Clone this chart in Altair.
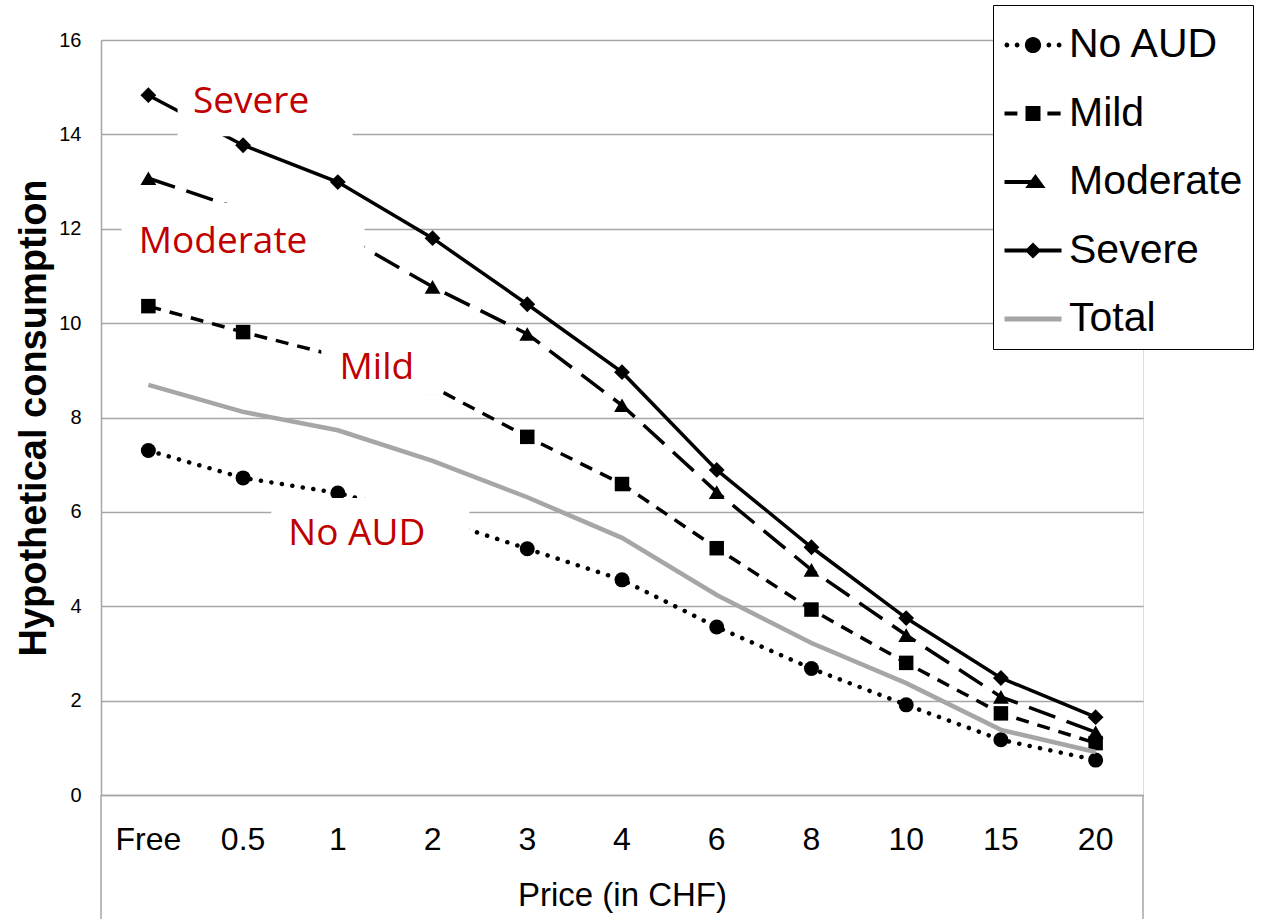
import altair as alt
import pandas as pd

# Price levels (x categories) and mean hypothetical consumption per group
prices = ["Free", "0.5", "1", "2", "3", "4", "6", "8", "10", "15", "20"]
no_aud = [7.30, 6.72, 6.40, 5.87, 5.22, 4.56, 3.56, 2.68, 1.91, 1.17, 0.74]
mild = [10.36, 9.81, 9.30, 8.65, 7.59, 6.59, 5.23, 3.93, 2.80, 1.73, 1.10]
moderate = [13.07, 12.40, 11.92, 10.77, 9.77, 8.26, 6.42, 4.77, 3.39, 2.08, 1.33]
severe = [14.83, 13.77, 12.99, 11.80, 10.40, 8.96, 6.89, 5.25, 3.75, 2.48, 1.65]
total = [8.69, 8.12, 7.73, 7.08, 6.31, 5.45, 4.24, 3.22, 2.37, 1.38, 0.91]

series_names = ["No AUD", "Mild", "Moderate", "Severe", "Total"]
series_values = [no_aud, mild, moderate, severe, total]

# In-plot group labels: text, anchor category and anchor value (text baseline)
label_text = ["Severe", "Moderate", "Mild", "No AUD"]
label_price = ["0.5", "0.5", "1", "1"]
label_value = [14.45, 11.49, 8.82, 5.30]

rows = []
for name, vals in zip(series_names, series_values):
    for p, v in zip(prices, vals):
        rows.append({"price": p, "value": v, "series": name})
df = pd.DataFrame(rows)

labels_df = pd.DataFrame({"price": label_price, "value": label_value, "text": label_text})

# ---- styles -------------------------------------------------------------
AXIS_GRAY = "#A6A6A6"
TOTAL_GRAY = "#A6A6A6"
LABEL_RED = "#C00000"
W, H = 1042, 755

line_styles = {
    "No AUD": dict(strokeWidth=4.5, strokeDash=[0.1, 10.5], strokeCap="round"),
    "Mild": dict(strokeWidth=3.5, strokeDash=[13, 9]),
    "Moderate": dict(strokeWidth=3.5, strokeDash=[28, 12]),
    "Severe": dict(strokeWidth=3.5),
    "Total": dict(strokeWidth=4.5),
}
line_colors = {"No AUD": "black", "Mild": "black", "Moderate": "black",
               "Severe": "black", "Total": TOTAL_GRAY}
marker_styles = {
    "No AUD": dict(shape="circle", size=225),
    "Mild": dict(shape="square", size=210),
    "Moderate": dict(shape="triangle-up", size=250),
    "Severe": dict(shape="diamond", size=250),
}

# pixel nudges of each label and its white backing box (relative to anchor)
label_dx = {"Severe": 8, "Moderate": -20, "Mild": 39, "No AUD": 19}
box_style = {  # dx, dy, width, height
    "Severe": (22, -7.5, 175, 61),
    "Moderate": (0, -20.5, 243, 59),
    "Mild": (44, -11.5, 121, 55),
    "No AUD": (32.5, -12, 198, 70),
}


# legend symbols: line + marker drawn as filled paths in a [-1, 1] box
def rect(x0, x1, h):
    return f"M{x0},{-h}L{x1},{-h}L{x1},{h}L{x0},{h}Z"


def circle(cx, r):
    return f"M{cx - r},0A{r},{r} 0 1,0 {cx + r},0A{r},{r} 0 1,0 {cx - r},0Z"


t = 0.067
legend_paths = [
    " ".join([circle(-0.87, 0.08), circle(-0.53, 0.08), circle(0, 0.27),
              circle(0.53, 0.08), circle(0.87, 0.08)]),
    " ".join([rect(-0.95, -0.52, t), "M-0.25,-0.25L0.25,-0.25L0.25,0.25L-0.25,0.25Z",
              rect(0.48, 0.92, t)]),
    " ".join([rect(-0.95, 0.0, t), "M0.08,-0.27L0.42,0.2L-0.26,0.2Z"]),
    " ".join([rect(-0.95, 0.95, t), "M0,-0.27L0.27,0L0,0.27L-0.27,0Z"]),
    rect(-0.95, 0.95, 0.085),
]
legend_colors = ["black", "black", "black", "black", TOTAL_GRAY]

# ---- shared encodings ---------------------------------------------------
x_enc = alt.X(
    "price:N",
    sort=prices,
    scale=alt.Scale(type="band", domain=prices, paddingInner=0, paddingOuter=0),
    axis=alt.Axis(
        title="Price (in CHF)",
        labelAngle=0,
        labelFont="Liberation Sans",
        labelFontSize=32,
        labelColor="black",
        labelBaseline="alphabetic",
        labelPadding=54,
        ticks=False,
        tickSize=0,
        grid=False,
        domainColor=AXIS_GRAY,
        domainWidth=1.5,
        titleFont="Liberation Sans",
        titleFontSize=33,
        titleFontWeight="normal",
        titleColor="black",
        titleBaseline="alphabetic",
        titleY=110,
    ),
)
y_enc = alt.Y(
    "value:Q",
    scale=alt.Scale(domain=[0, 16], nice=False, zero=True),
    axis=alt.Axis(
        title="Hypothetical consumption",
        values=[0, 2, 4, 6, 8, 10, 12, 14, 16],
        labelFont="Liberation Sans",
        labelFontSize=20,
        labelColor="black",
        labelPadding=20,
        ticks=False,
        tickSize=0,
        grid=True,
        gridColor=AXIS_GRAY,
        gridWidth=1.5,
        domainColor=AXIS_GRAY,
        domainWidth=1.5,
        titleFont="Liberation Sans",
        titleFontSize=38,
        titleFontWeight="bold",
        titleColor="black",
        titleAngle=270,
        titleAlign="center",
        titleBaseline="alphabetic",
        titleX=-56,
        titleY=H / 2,
    ),
)

layers = []

# series lines with their markers
for name in series_names:
    sub = alt.Chart(df).transform_filter(alt.datum.series == name)
    layers.append(
        sub.mark_line(color=line_colors[name], **line_styles[name]).encode(x=x_enc, y=y_enc)
    )
    if name in marker_styles:
        layers.append(
            sub.mark_point(filled=True, color="black", opacity=1, strokeWidth=0,
                           **marker_styles[name]).encode(x=x_enc, y=y_enc)
        )

# white boxes behind the group labels, then the labels themselves
for name in label_text:
    dx, dy, bw, bh = box_style[name]
    one = alt.Chart(labels_df).transform_filter(alt.datum.text == name)
    layers.append(
        one.mark_rect(color="white", width=bw, height=bh, xOffset=dx, yOffset=dy)
        .encode(x=x_enc, y=y_enc)
    )
    layers.append(
        one.mark_text(color=LABEL_RED, font="Open Sans", fontSize=37, align="center",
                      baseline="alphabetic", dx=label_dx[name])
        .encode(x=x_enc, y=y_enc, text="text:N")
    )

# frame of the category-axis band below the plot
frame = pd.DataFrame({"edge": ["left", "right"]})
layers.append(
    alt.Chart(frame).transform_filter(alt.datum.edge == "left")
    .mark_rule(color=AXIS_GRAY, strokeWidth=1.5)
    .encode(x=alt.value(0), y=alt.value(H), y2=alt.value(H + 130))
)
layers.append(
    alt.Chart(frame).transform_filter(alt.datum.edge == "right")
    .mark_rule(color=AXIS_GRAY, strokeWidth=1.5)
    .encode(x=alt.value(W), y=alt.value(H), y2=alt.value(H + 130))
)

# legend: scale domains are explicit, so entries exist without drawn marks
legend_def = alt.Legend(
    title=None,
    orient="none",
    legendX=892,
    legendY=-35,
    fillColor="white",
    strokeColor="black",
    padding=10,
    rowPadding=18.5,
    symbolSize=3600,
    symbolStrokeWidth=0,
    labelFont="Liberation Sans",
    labelFontSize=41,
    labelColor="black",
    labelOffset=6,
    labelLimit=400,
    labelBaseline="middle",
)
layers.append(
    alt.Chart(df)
    .transform_filter(alt.datum.value < -1000)
    .mark_point(filled=True, opacity=1)
    .encode(
        x=x_enc,
        y=y_enc,
        shape=alt.Shape("series:N", sort=series_names,
                        scale=alt.Scale(domain=series_names, range=legend_paths),
                        legend=legend_def),
        fill=alt.Fill("series:N", sort=series_names,
                      scale=alt.Scale(domain=series_names, range=legend_colors),
                      legend=legend_def),
    )
)

chart = (
    alt.layer(*layers)
    .properties(
        width=W,
        height=H,
        autosize=alt.AutoSizeParams(type="none"),
        padding={"left": 101, "top": 40, "right": 121, "bottom": 124},
    )
    .configure_view(strokeWidth=0)
    .configure(background="white")
)

chart.save("out.html", embed_options={"renderer": "svg", "actions": False})
